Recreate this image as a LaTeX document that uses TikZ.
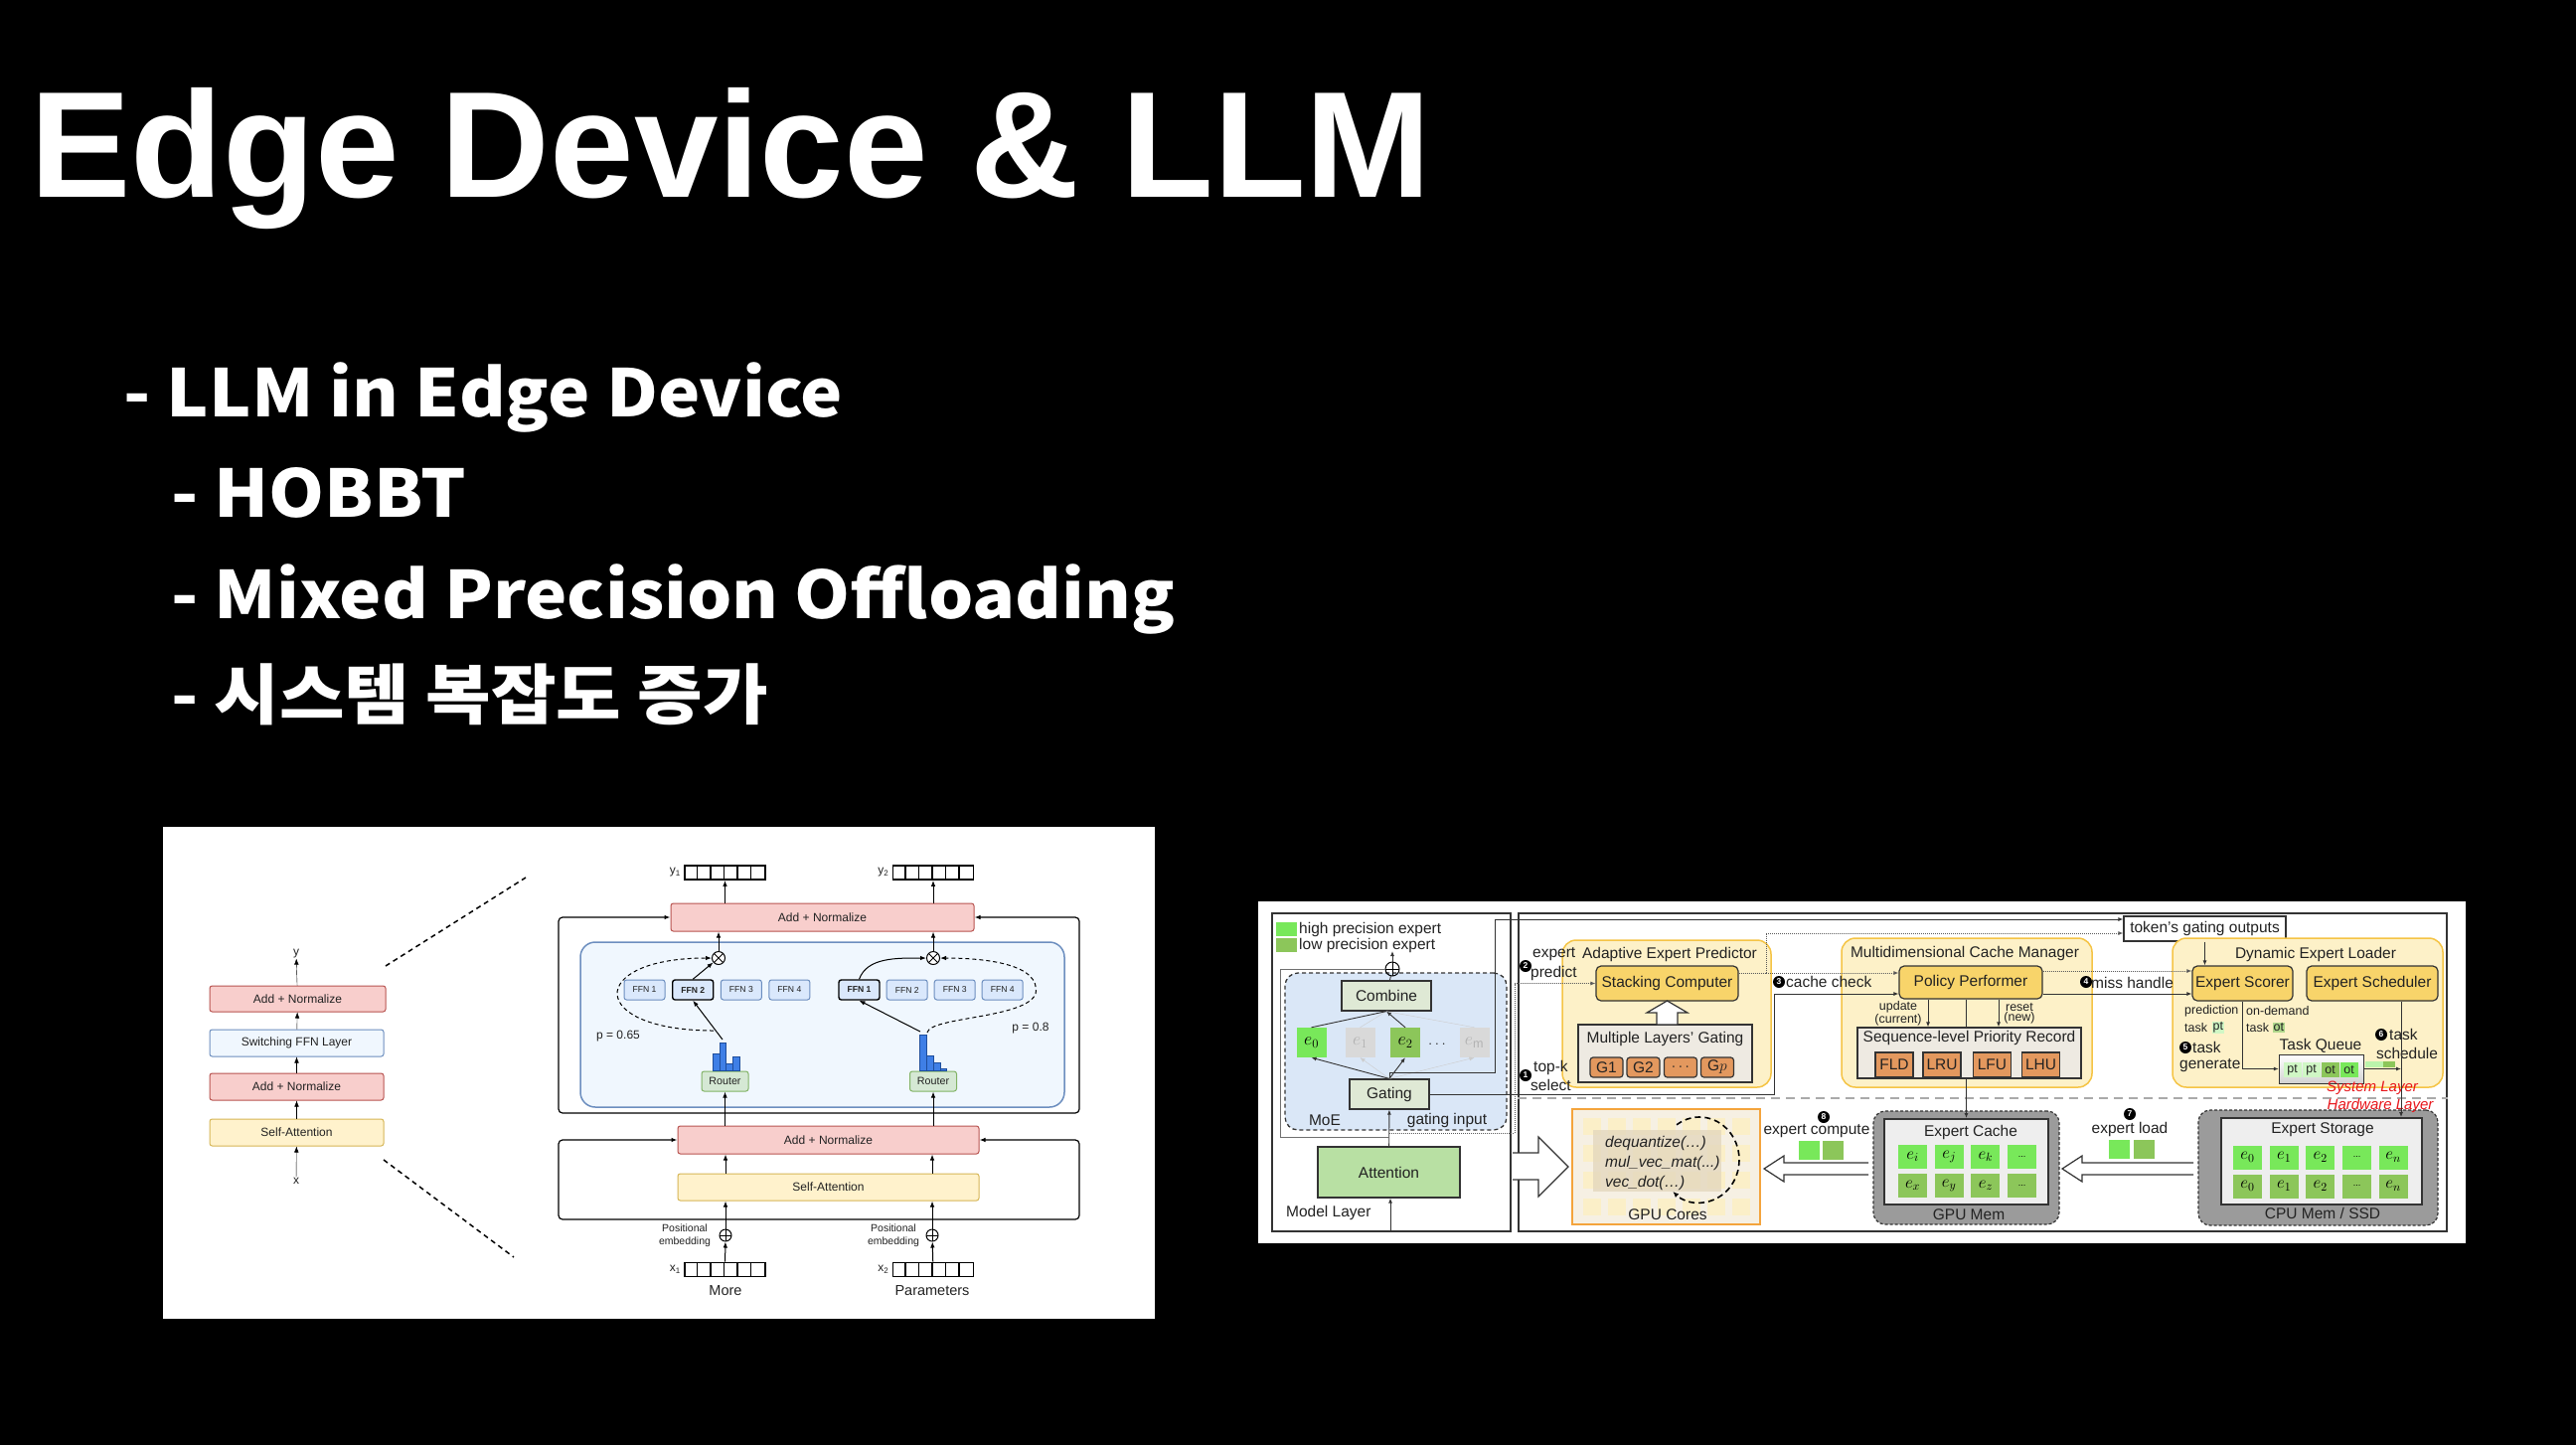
\documentclass[tikz,border=0pt]{standalone}
\usepackage{fix-cm}
\usepackage{fontspec}
\setmainfont{Liberation Sans}
\newfontfamily\krfont{Noto Sans CJK KR}[FakeStretch=1.08]
\usetikzlibrary{positioning,arrows.meta,shapes.geometric}
\newcommand{\fsz}[2]{\fontsize{#1}{#2}\selectfont}
\definecolor{pinkF}{HTML}{F8CECC}
\definecolor{pinkD}{HTML}{B85450}
\definecolor{blueF}{HTML}{DAE8FC}
\definecolor{blueD}{HTML}{6C8EBF}
\definecolor{blueBg}{HTML}{F0F7FE}
\definecolor{yelF}{HTML}{FFF2CC}
\definecolor{yelD}{HTML}{D6B656}
\definecolor{grnF}{HTML}{D5E8D4}
\definecolor{grnD}{HTML}{82B366}
\definecolor{histF}{HTML}{3F7FE6}
\definecolor{histD}{HTML}{1F4E9C}
\definecolor{dk}{HTML}{333333}
\definecolor{txt}{HTML}{222222}
\definecolor{hiG}{HTML}{78E85A}
\definecolor{loG}{HTML}{8CC65A}
\definecolor{moeF}{HTML}{DAE7F7}
\definecolor{cgF}{HTML}{DFE9D5}
\definecolor{attF}{HTML}{B8E0A3}
\definecolor{grayE}{HTML}{D9D9D9}
\definecolor{ayF}{HTML}{FDF1C8}
\definecolor{ayD}{HTML}{F5C445}
\definecolor{pyF}{HTML}{F8D46A}
\definecolor{orF}{HTML}{E3985E}
\definecolor{beF}{HTML}{EEEAE2}
\definecolor{memF}{HTML}{9B9B9B}
\definecolor{cacheF}{HTML}{EEEEEE}
\definecolor{coreD}{HTML}{F4A43C}
\definecolor{coreF}{HTML}{F6F0E3}
\definecolor{cellF}{HTML}{FBEFC8}
\definecolor{overF}{HTML}{E2D6BC}
\definecolor{sepG}{HTML}{AAAAAA}
\definecolor{redL}{HTML}{E8161B}

\begin{document}
\begin{tikzpicture}[x=1pt, y=-1pt,
  arr/.style={-{Latex[length=6pt,width=4.5pt]}},
  sarr/.style={-{Latex[length=5pt,width=4pt]}},
  lab/.style={text=txt, font=\fsz{12}{14}, inner sep=0pt},
  lbox/.style={draw, rounded corners=2.5pt, line width=1pt, inner sep=0pt, text=txt, font=\fsz{12}{14}},
  addn/.style={lbox, draw=pinkD, fill=pinkF},
  swf/.style={lbox, draw=blueD, fill=blueBg},
  satt/.style={lbox, draw=yelD, fill=yelF},
  ffn/.style={lbox, draw=blueD, fill=blueF, font=\fsz{8.6}{10}, minimum width=41pt, minimum height=20pt},
  ffnon/.style={ffn, draw=black, line width=1.4pt, font=\bfseries\fsz{8.6}{10}},
  router/.style={lbox, draw=grnD, fill=grnF, font=\fsz{10.7}{12}, minimum width=47pt, minimum height=20pt},
  vec/.style={draw, line width=1.8pt, minimum width=81pt, minimum height=14pt, inner sep=0pt},
  histbar/.style={fill=histF, draw=histD, line width=0.5pt},
  otimes/.style={circle, draw, line width=1pt, minimum size=13pt, inner sep=0pt, fill=white,
    path picture={\draw (path picture bounding box.north west) -- (path picture bounding box.south east)
      (path picture bounding box.north east) -- (path picture bounding box.south west);}},
  oplus/.style={circle, draw, line width=1pt, minimum size=12pt, inner sep=0pt,
    path picture={\draw (path picture bounding box.north) -- (path picture bounding box.south)
      (path picture bounding box.east) -- (path picture bounding box.west);}},
  zoomline/.style={line width=1.5pt, dash pattern=on 5pt off 4pt},
  rtxt/.style={text=txt, font=\fsz{15.5}{17}, inner sep=0pt},
  stxt/.style={text=txt, font=\fsz{12.5}{10}, inner sep=0pt, align=center},
  rbox/.style={draw=dk, line width=1.2pt, inner sep=0pt, text=txt, font=\fsz{15.5}{17}},
  cg/.style={rbox, fill=cgF},
  ybox/.style={rbox, fill=pyF, rounded corners=5pt, minimum height=35pt},
  cont/.style={draw=ayD, fill=ayF, line width=1.5pt, rounded corners=14pt, inner sep=0pt},
  obox/.style={rbox, fill=orF, minimum height=20pt},
  expc/.style={inner sep=0pt, minimum width=30pt, minimum height=30pt, font=\fsz{18}{18}},
  cellH/.style={fill=hiG, inner sep=0pt, minimum width=29pt, minimum height=24pt, font=\fsz{17}{17}},
  cellL/.style={cellH, fill=loG},
  mem/.style={draw=dk, densely dashed, fill=memF, line width=1.2pt, rounded corners=12pt, inner sep=0pt},
  store/.style={draw=dk, fill=cacheF, line width=2pt, inner sep=0pt},
  outer/.style={draw=dk, line width=1.6pt, inner sep=0pt},
  thinl/.style={draw=dk, line width=0.9pt},
  dotl/.style={draw=dk!80, line width=0.9pt, dash pattern=on 1pt off 1pt},
  num/.style={circle, fill=black, text=white, inner sep=0pt, minimum size=12pt, font=\bfseries\fsz{8.5}{8.5}},
  hollow/.style={draw=dk, fill=white, line width=1.2pt, line join=miter},
  sq/.style={inner sep=0pt, minimum width=21pt, minimum height=19pt},
  tagc/.style={inner sep=1pt, text=txt, font=\fsz{12.5}{12}}]

\useasboundingbox (0,0) rectangle (2592,1454);
\fill[black] (0,0) rectangle (2592,1454);

% title and bullets
\node[anchor=base west, text=white, inner sep=0pt, font=\bfseries\fsz{152}{160}] (title) at (30,198) {Edge Device \& LLM};
\node[anchor=base west, text=white, inner sep=0pt, font=\krfont\bfseries\fsz{66}{70}] (b1) at (124,419) {- LLM in Edge Device};
\node[anchor=base west, text=white, inner sep=0pt, font=\krfont\bfseries\fsz{66}{70}] (b2) at (172,520) {- HOBBT};
\node[anchor=base west, text=white, inner sep=0pt, font=\krfont\bfseries\fsz{66}{70}] (b3) at (172,622) {- Mixed Precision Offloading};
\node[anchor=base west, text=white, inner sep=0pt, font=\krfont\bfseries\fsz{66}{70}] (b4) at (172,723) {- 시스템 복잡도 증가};

% ---------------- left figure ----------------
\node[fill=white, inner sep=0pt, minimum width=998pt, minimum height=495pt] (figL) at (663,1079.5) {};

\node[addn, minimum width=177pt, minimum height=26pt] (lan2) at (299.5,1005) {Add + Normalize};
\node[swf, minimum width=175pt, minimum height=27pt] (lsw) at (298.5,1049.5) {Switching FFN Layer};
\node[addn, minimum width=175pt, minimum height=27pt] (lan1) at (298.5,1093.5) {Add + Normalize};
\node[satt, minimum width=175pt, minimum height=27pt] (lsa) at (298.5,1139.5) {Self-Attention};
\node[lab] (ly) at (298,960) {y};
\node[lab] (lx) at (298,1188) {x};
\draw[arr] (lx) -- (lsa);
\draw[arr] (lsa) -- (lan1);
\draw[arr] (lan1) -- (lsw);
\draw[arr] (lsw) -- (lan2);
\draw[arr] (lan2) -- (ly);

\coordinate (za) at (388,972);
\coordinate (zb) at (529,883);
\coordinate (zc) at (386,1167);
\coordinate (zd) at (517,1265);
\draw[zoomline] (za) -- (zb);
\draw[zoomline] (zc) -- (zd);

% expanded layer
\node[addn, minimum width=305pt, minimum height=28pt] (tan) at (827.5,923) {Add + Normalize};
\node[draw=blueD, fill=blueBg, rounded corners=15pt, line width=1.5pt, minimum width=487pt, minimum height=166pt] (moel) at (827.5,1031) {};
\node[otimes] (ml) at (723,964) {};
\node[otimes] (mr) at (939,964) {};

\node[ffn] (fl1) at (648.5,996) {FFN 1};
\node[ffnon, right=6.5pt of fl1] (fl2) {FFN 2};
\node[ffn, right=6.5pt of fl2] (fl3) {FFN 3};
\node[ffn, right=6.5pt of fl3] (fl4) {FFN 4};
\node[ffnon] (fr1) at (864.5,996) {FFN 1};
\node[ffn, right=6pt of fr1] (fr2) {FFN 2};
\node[ffn, right=6pt of fr2] (fr3) {FFN 3};
\node[ffn, right=6pt of fr3] (fr4) {FFN 4};

\node[router] (rl) at (729.5,1088) {Router};
\node[router] (rr) at (939,1088) {Router};
\foreach \t [count=\i from 0] in {1060,1049,1070,1063}
  \draw[histbar] ({717+\i*6.75},1077) rectangle ++(6.75,{\t-1077});
\foreach \t [count=\i from 0] in {1041,1062,1069,1075}
  \draw[histbar] ({925.7+\i*6.75},1077) rectangle ++(6.75,{\t-1077});
\coordinate (hl) at (727,1046);
\coordinate (hld) at (718,1037);
\coordinate (hr) at (926,1038);
\coordinate (hrd) at (933,1039);
\coordinate (dr) at (1042,1000);

\draw[arr, line width=1pt] (hl) -- (fl2.south);
\draw[arr, line width=1pt, dash pattern=on 4pt off 3pt] (hld) .. controls +(-128,0) and +(-126,0) .. (ml.west);
\draw[arr, line width=1pt] (fl2.north) -- (ml);
\draw[arr, line width=1pt] (hr) -- (fr1.south);
\draw[arr, line width=1pt] (fr1.north) .. controls +(8,-22) and +(-30,0) .. (mr.west);
\draw[arr, line width=1pt, dash pattern=on 4pt off 3pt] (hrd) .. controls +(3,-16) and +(-10,25) .. (dr) .. controls +(6,-30) and +(45,0) .. (mr.east);
\node[lab] (p65) at (622,1043) {p = 0.65};
\node[lab] (p08) at (1037,1035) {p = 0.8};

\node[addn, minimum width=303pt, minimum height=28pt] (ban) at (833.5,1147) {Add + Normalize};
\node[satt, minimum width=303pt, minimum height=27pt] (bsa) at (833.5,1194.5) {Self-Attention};
\node[oplus] (pl) at (730,1243) {};
\node[oplus] (pr) at (938,1243) {};
\node[lab, font=\fsz{10.5}{13}, align=center] (pel) at (689,1243) {Positional\\embedding};
\node[lab, font=\fsz{10.5}{13}, align=center] (per) at (899,1243) {Positional\\embedding};

\node[vec] (yv1) at (729.5,878) {};
\node[vec] (yv2) at (939,878) {};
\node[vec] (xv1) at (729.5,1277.5) {};
\node[vec] (xv2) at (939,1277.5) {};
\foreach \v in {yv1,yv2,xv1,xv2}
  \foreach \k in {1,...,5}
    \draw[line width=1.3pt] ([xshift=\k*13.5pt]\v.north west) -- ([xshift=\k*13.5pt]\v.south west);
\node[lab, left=3pt of yv1] (yl1) {y\textsubscript{1}};
\node[lab, left=3pt of yv2] (yl2) {y\textsubscript{2}};
\node[lab, left=3pt of xv1] (xl1) {x\textsubscript{1}};
\node[lab, left=3pt of xv2] (xl2) {x\textsubscript{2}};
\node[lab, font=\fsz{14.5}{16}] (more) at (730,1299) {More};
\node[lab, font=\fsz{14.5}{16}] (params) at (938,1299) {Parameters};

\draw[arr, line width=1pt] (xv1) -- (pl);
\draw[arr, line width=1pt] (xv2) -- (pr);
\draw[arr, line width=1pt] (pl) -- (pl |- bsa.south);
\draw[arr, line width=1pt] (pr) -- (pr |- bsa.south);
\draw[arr, line width=1pt] (bsa.north -| pl) -- (ban.south -| pl);
\draw[arr, line width=1pt] (bsa.north -| pr) -- (ban.south -| pr);
\draw[arr, line width=1pt] (ban.north -| rl) -- (rl);
\draw[arr, line width=1pt] (ban.north -| rr) -- (rr);
\draw[arr, line width=1pt] (ml) -- (ml |- tan.south);
\draw[arr, line width=1pt] (mr) -- (mr |- tan.south);
\draw[arr, line width=1pt] (tan.north -| yv1) -- (yv1);
\draw[arr, line width=1pt] (tan.north -| yv2) -- (yv2);

\coordinate (ra) at (562,1120);
\coordinate (rb) at (1086,1120);
\coordinate (rc) at (562,1227);
\coordinate (rd) at (1086,1227);
\draw[arr, line width=1.2pt, rounded corners=4pt] (rl |- ra) -- (ra) |- (tan.west);
\draw[arr, line width=1.2pt, rounded corners=4pt] (rl |- ra) -- (rb) |- (tan.east);
\draw[arr, line width=1.2pt, rounded corners=4pt] (pl |- rc) -- (rc) |- (ban.west);
\draw[arr, line width=1.2pt, rounded corners=4pt] (pl |- rc) -- (rd) |- (ban.east);

% ---------------- right figure ----------------
\node[fill=white, inner sep=0pt, minimum width=1215pt, minimum height=344pt] (figR) at (1873.5,1079) {};
\node[outer, minimum width=240pt, minimum height=320pt] (mlayer) at (1400,1079) {};
\node[outer, minimum width=934pt, minimum height=320pt] (sys) at (1995,1079) {};

\node[sq, fill=hiG, minimum height=14pt] (lg1) at (1294.5,935) {};
\node[sq, fill=loG, minimum height=14pt] (lg2) at (1294.5,951) {};
\node[rtxt, anchor=west] (lgt1) at (1307,935) {high precision expert};
\node[rtxt, anchor=west] (lgt2) at (1307,951) {low precision expert};

\node[draw=dk, dash pattern=on 4pt off 3pt, fill=moeF, rounded corners=13pt, line width=1.3pt, minimum width=223pt, minimum height=158pt] (moe) at (1404.5,1058) {};
\node[cg, minimum width=90pt, minimum height=30pt] (comb) at (1395,1002) {Combine};
\node[expc, fill=hiG] (e0) at (1319.5,1049) {$e_0$};
\node[expc, fill=grayE, text=gray!60] (e1) at (1368.5,1049) {$e_1$};
\node[expc, fill=loG] (e2) at (1414,1049) {$e_2$};
\node[rtxt] (edots) at (1446,1051) {$\dots$};
\node[expc, fill=grayE, text=gray!60] (em) at (1483.5,1049) {$e_\mathrm{m}$};
\node[cg, minimum width=80pt, minimum height=30pt] (gate) at (1398,1101) {Gating};
\node[rtxt] (moet) at (1333,1127) {MoE};
\node[rtxt] (ginp) at (1456,1127) {gating input};
\node[rbox, fill=attF, minimum width=143pt, minimum height=51pt] (attn) at (1397.5,1179.5) {Attention};
\node[rtxt, anchor=west] (mlt) at (1294,1220) {Model Layer};
\node[oplus, minimum size=14pt] (mplus) at (1401,975) {};
\coordinate (minp) at (1399,1238);
\coordinate (mout) at (1401,957);
\coordinate (mres) at (1288,1144);
\coordinate (gto) at (1504,1079);
\coordinate (gin) at (1524,1140);
\coordinate (tkc) at (1785,1000);

\draw[thinl, sarr] (minp) -- (minp |- attn.south);
\draw[thinl, sarr] (attn) -- (gate);
\draw[draw=gray!40, sarr] (gate.north) -- (e1.south);
\draw[draw=gray!40, sarr] (gate.north) -- (em.south);
\draw[draw=gray!40] (e1.north) -- (comb.south);
\draw[draw=gray!40] (em.north) -- (comb.south);
\draw[thinl, sarr] (gate.north) -- (e0.south);
\draw[thinl, sarr] (gate.north) -- (e2.south);
\draw[thinl] (e0.north) -- (comb.south);
\draw[thinl, sarr] (e2.north) -- (comb.south);
\draw[thinl] (comb) -- (mplus);
\draw[thinl, sarr] (mplus) -- (mout);
\draw[draw=dk!70, line width=0.8pt] (gate.south |- mres) -- (mres) |- (mplus.west);

% adaptive expert predictor
\node[cont, minimum width=210pt, minimum height=148pt] (aep) at (1677,1020) {};
\node[rtxt] (aept) at (1680,960) {Adaptive Expert Predictor};
\node[ybox, minimum width=143pt] (stack) at (1677.5,989.5) {Stacking Computer};
\node[rbox, fill=beF, minimum width=175pt, minimum height=58pt] (mlg) at (1675.5,1060) {};
\node[rtxt] (mlgt) at (1675.5,1045) {Multiple Layers' Gating};
\node[obox, rounded corners=3pt, minimum width=33pt] (g1) at (1616.5,1074) {G1};
\node[obox, rounded corners=3pt, minimum width=33pt] (g2) at (1653.5,1074) {G2};
\node[obox, rounded corners=3pt, minimum width=33pt] (g3) at (1691,1074) {$\cdots$};
\node[obox, rounded corners=3pt, minimum width=33pt] (g4) at (1728,1074) {G$p$};
\draw[hollow] (1667,1031) -- (1688,1031) -- (1688,1019) -- (1698,1019) -- (1677.5,1007) -- (1657,1019) -- (1667,1019) -- cycle;

% multidimensional cache manager
\node[cont, minimum width=252pt, minimum height=150pt] (mcm) at (1979,1019) {};
\node[rtxt] (mcmt) at (1977,959) {Multidimensional Cache Manager};
\node[ybox, minimum width=144pt, minimum height=33pt] (pp) at (1983,988.5) {Policy Performer};
\node[rbox, fill=beF, minimum width=225pt, minimum height=51pt] (spr) at (1981.5,1059.5) {};
\node[rtxt] (sprt) at (1981.5,1044) {Sequence-level Priority Record};
\node[obox, minimum width=38pt, minimum height=25pt] (fld) at (1906,1071.5) {FLD};
\node[obox, minimum width=38pt, minimum height=25pt] (lru) at (1954,1071.5) {LRU};
\node[obox, minimum width=38pt, minimum height=25pt] (lfu) at (2004.5,1071.5) {LFU};
\node[obox, minimum width=38pt, minimum height=25pt] (lhu) at (2053.5,1071.5) {LHU};
\node[stxt] (upd) at (1910,1020) {update\\(current)};
\node[stxt] (rst) at (2032,1020) {reset\\(new)};

% dynamic expert loader
\node[rbox, fill=white, minimum width=163pt, minimum height=25pt] (tok) at (2218.5,934.5) {token's gating outputs};
\node[cont, minimum width=272pt, minimum height=150pt] (del) at (2322,1019) {};
\node[rtxt] (delt) at (2330,960) {Dynamic Expert Loader};
\node[ybox, minimum width=101pt] (escorer) at (2256.5,989.5) {Expert Scorer};
\node[ybox, minimum width=132pt] (esched) at (2387,989.5) {Expert Scheduler};
\node[tagc, anchor=west] (tpred) at (2197,1017) {prediction};
\node[tagc, anchor=west] (ttask1) at (2197,1034) {task};
\node[tagc, fill=hiG!35, right=3pt of ttask1] (tpt) {pt};
\node[tagc, anchor=west] (tond) at (2259,1017) {on-demand};
\node[tagc, anchor=west] (ttask2) at (2259,1034) {task};
\node[tagc, fill=loG!70, right=2pt of ttask2] (tot) {ot};
\node[rtxt, anchor=west] (tgen1) at (2206,1054) {task};
\node[rtxt, anchor=west] (tgen2) at (2193,1072) {generate};
\node[rtxt] (tqt) at (2335,1052) {Task Queue};
\node[cylinder, draw=dk, line width=1pt, shape aspect=0.45, minimum height=85pt, minimum width=29pt, inner sep=0pt, top color=white, bottom color=gray!35] (queue) at (2335.5,1075.5) {};
\node[tagc, fill=hiG!35, minimum width=18pt, minimum height=15pt] (q1) at (2306.5,1076.5) {pt};
\node[tagc, fill=hiG!35, minimum width=18pt, minimum height=15pt] (q2) at (2325.5,1076.5) {pt};
\node[tagc, fill=loG, minimum width=18pt, minimum height=15pt] (q3) at (2344.5,1076.5) {ot};
\node[tagc, fill=hiG, minimum width=18pt, minimum height=15pt] (q4) at (2363.5,1076.5) {ot};
\fill[hiG!50] (2380,1068) rectangle (2398,1074);
\fill[loG] (2398,1068) rectangle (2410,1074);
\node[rtxt, anchor=west] (tsch1) at (2404,1041) {task};
\node[rtxt] (tsch2) at (2422,1060) {schedule};

% hardware layer
\node[draw=coreD, fill=coreF, line width=2pt, minimum width=189pt, minimum height=116pt, inner sep=0pt] (cores) at (1676.5,1174) {};
\foreach \c in {0,...,6}
  \foreach \r in {0,...,3}
    \fill[cellF] ({1593+\c*25},{1125+\r*27}) rectangle ++(18,17);
\fill[overF, opacity=0.75] (1603,1137) rectangle (1732,1199);
\node[rtxt, font=\itshape\fsz{15.5}{17}, anchor=west] (dq) at (1615,1150) {dequantize(…)};
\node[rtxt, font=\itshape\fsz{15.5}{17}, anchor=west] (mvm) at (1615,1170) {mul\_vec\_mat(...)};
\node[rtxt, font=\itshape\fsz{15.5}{17}, anchor=west] (vd) at (1615,1190) {vec\_dot(…)};
\draw[line width=1.6pt, dash pattern=on 6pt off 4pt, -{Latex[length=6pt,width=5pt]}] (1710,1167) ++(125:40pt and 43pt) arc[start angle=125, end angle=-132, x radius=40pt, y radius=43pt];
\node[rtxt] (coret) at (1678,1222) {GPU Cores};

\node[mem, minimum width=187pt, minimum height=114pt] (gmem) at (1978.5,1175) {};
\node[store, minimum width=165pt, minimum height=86pt] (ecache) at (1978.5,1169) {};
\node[rtxt] (ecachet) at (1983,1139) {Expert Cache};
\node[rtxt] (gmemt) at (1981,1222) {GPU Mem};
\foreach \lab [count=\i from 0] in {e_i,e_j,e_k}
  \node[cellH] (ch\i) at ({1924.5+\i*36.7},1164) {$\lab$};
\node[cellH, font=\fsz{9}{9}] (ch3) at (2034.5,1164) {...};
\foreach \lab [count=\i from 0] in {e_x,e_y,e_z}
  \node[cellL] (cl\i) at ({1924.5+\i*36.7},1193) {$\lab$};
\node[cellL, font=\fsz{9}{9}] (cl3) at (2034.5,1193) {...};

\node[mem, minimum width=241pt, minimum height=116pt] (cmem) at (2332.5,1175) {};
\node[store, minimum width=202pt, minimum height=87pt] (estor) at (2336,1168.5) {};
\node[rtxt] (estort) at (2337,1137) {Expert Storage};
\node[rtxt] (cmemt) at (2337,1221) {CPU Mem / SSD};
\foreach \lab [count=\i from 0] in {e_0,e_1,e_2}
  \node[cellH] (sh\i) at ({2261.5+\i*36.6},1164.5) {$\lab$};
\node[cellH, font=\fsz{9}{9}] (sh3) at (2371.5,1164.5) {...};
\node[cellH] (sh4) at (2408,1164.5) {$e_n$};
\foreach \lab [count=\i from 0] in {e_0,e_1,e_2}
  \node[cellL] (sl\i) at ({2261.5+\i*36.6},1193.5) {$\lab$};
\node[cellL, font=\fsz{9}{9}] (sl3) at (2371.5,1193.5) {...};
\node[cellL] (sl4) at (2408,1193.5) {$e_n$};

% hollow transfer arrows
\draw[hollow] (1522,1160) -- (1548,1160) -- (1548,1144) -- (1578,1174) -- (1548,1204) -- (1548,1187) -- (1522,1187);
\draw[hollow] (1880,1170) -- (1795,1170) -- (1795,1163) -- (1775,1176) -- (1795,1189) -- (1795,1182) -- (1880,1182);
\draw[hollow] (2207,1170) -- (2095,1170) -- (2095,1163) -- (2075,1176) -- (2095,1189) -- (2095,1182) -- (2207,1182);
\node[sq, fill=hiG] (cq1) at (1820.5,1157.5) {};
\node[sq, fill=loG] (cq2) at (1844.5,1157.5) {};
\node[rtxt] (ecomp) at (1828,1138) {expert compute};
\node[sq, fill=hiG] (lq1) at (2132.5,1156.5) {};
\node[sq, fill=loG] (lq2) at (2157,1156.5) {};
\node[rtxt] (eload) at (2143,1136) {expert load};

% layer separator
\draw[draw=sepG, line width=2pt, dash pattern=on 9pt off 6pt] (sys.west |- 0,1105) -- (sys.east |- 0,1105);
\node[rtxt, text=redL, font=\itshape\fsz{15}{16}] (syl) at (2387,1095) {System Layer};
\node[rtxt, text=redL, font=\itshape\fsz{15}{16}] (hwl) at (2395,1113) {Hardware Layer};

% step labels
\node[rtxt, anchor=west] (st2a) at (1542,960) {expert};
\node[rtxt, anchor=west] (st2b) at (1540,979) {predict};
\node[rtxt, anchor=west] (st1a) at (1543,1074) {top-k};
\node[rtxt, anchor=west] (st1b) at (1540,1092) {select};
\node[rtxt, anchor=west] (st3) at (1797,988) {cache check};
\node[rtxt, anchor=west] (st4) at (2104,989) {miss handle};
\node[num] (n1) at (1535,1082) {1};
\node[num] (n2) at (1535,972) {2};
\node[num] (n3) at (1790,988) {3};
\node[num] (n4) at (2099,988) {4};
\node[num] (n5) at (2199,1054) {5};
\node[num] (n6) at (2396,1041) {6};
\node[num] (n7) at (2143,1121) {7};
\node[num] (n8) at (1835,1124) {8};

% connectors
\coordinate (sbr) at (1777,979);
\coordinate (ppd) at ([yshift=11.5pt]pp.east);
\coordinate (pps) at ([yshift=-11.5pt]pp.east);
\coordinate (pu) at ([xshift=-43pt]pp.south);
\coordinate (prs) at ([xshift=28pt]pp.south);
\coordinate (schl) at ([xshift=29pt]esched.south);
\draw[thinl, sarr] (gate.north) |- (gto) |- ([yshift=9.5pt]tok.west);
\draw[dotl, sarr] (gate.south |- gin) -- (gin) |- (stack.west);
\draw[thinl, sarr] (gate.east) -| (tkc) -- (tkc -| pp.west);
\draw[dotl] ([yshift=10.5pt]stack.east) -- (sbr);
\draw[dotl, sarr] (sbr) |- ([yshift=-4.5pt]tok.west);
\draw[dotl, sarr] (sbr) -- (sbr -| pp.west);
\draw[dotl, sarr] (ppd) -- (ppd -| escorer.west);
\draw[thinl, sarr] (pps) -- (pps -| escorer.west);
\draw[thinl, sarr] (tok.south) -- (tok.south |- escorer.north);
\draw[thinl, sarr] (pu) -- (pu |- spr.north);
\draw[thinl, sarr] (prs) -- (prs |- spr.north);
\draw[thinl] (pp.south -| ecache.north) -- (spr.north -| ecache.north);
\draw[thinl, sarr] (spr.south -| ecache.north) -- (ecache.north);
\draw[thinl, sarr] (escorer.south) |- (queue.west);
\draw[thinl, sarr] (queue.east) -- (queue.east -| schl);
\draw[thinl, sarr] (schl) -- (schl |- estor.north);
\end{tikzpicture}
\end{document}
